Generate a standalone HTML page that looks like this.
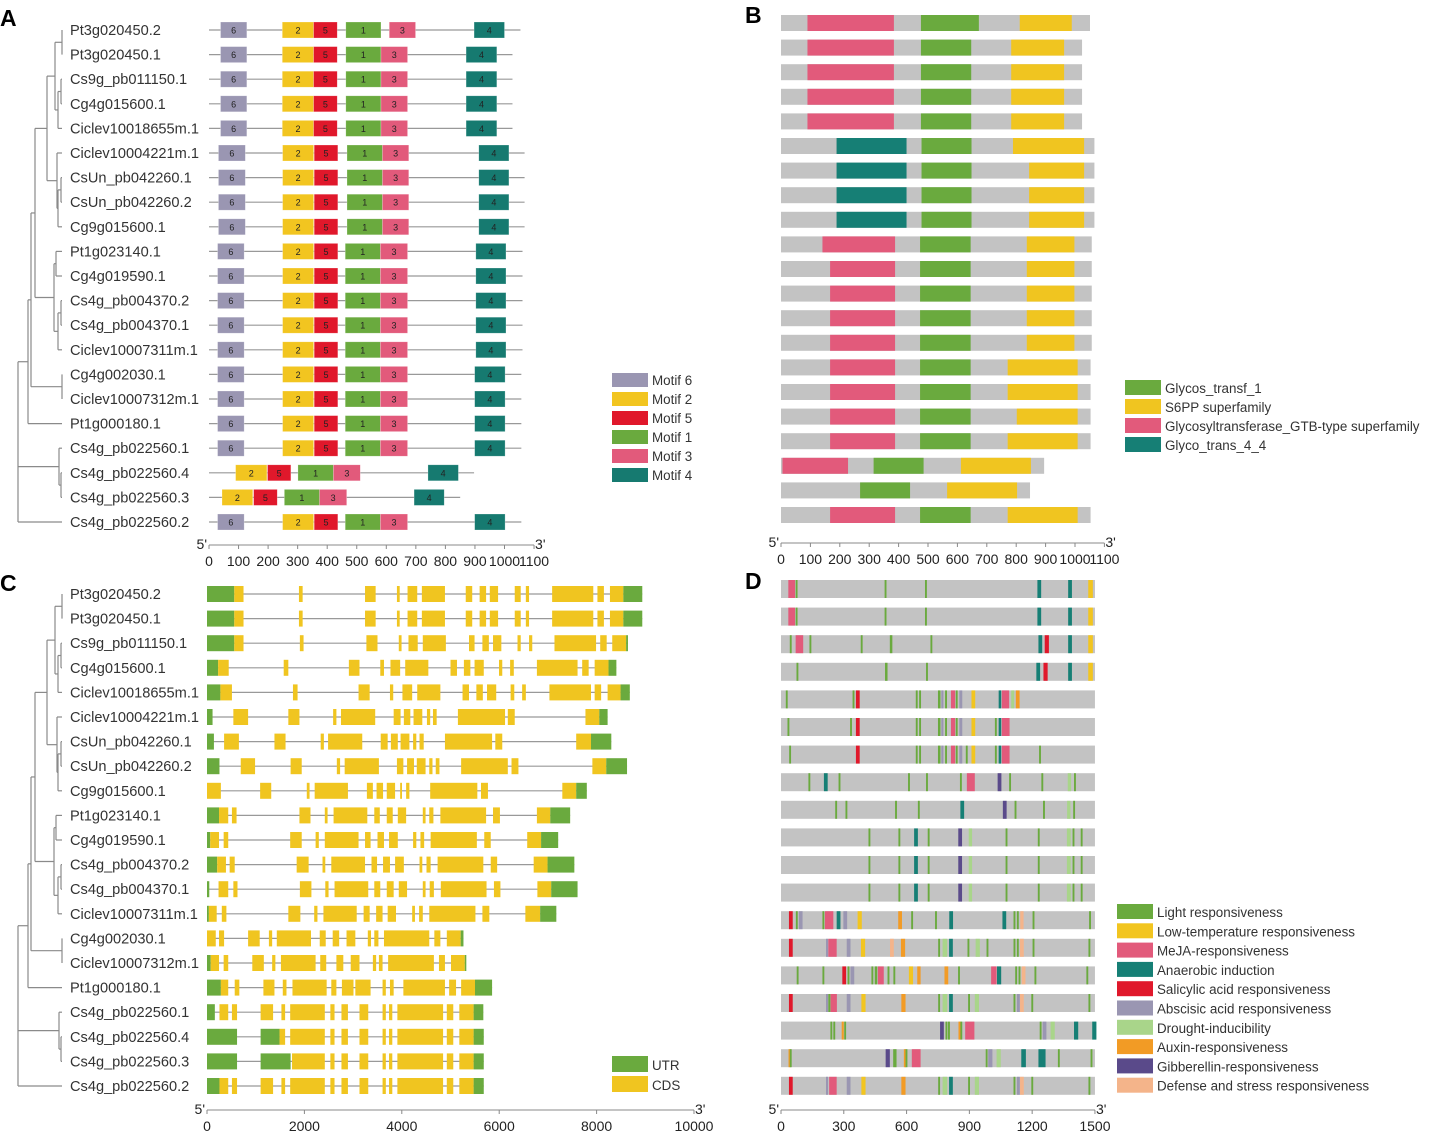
<!DOCTYPE html>
<html><head><meta charset="utf-8">
<style>
html,body{margin:0;padding:0;background:#fff;}
svg{display:block;font-family:"Liberation Sans",Arial,sans-serif;}
</style></head>
<body>
<svg id="fig" width="1430" height="1137" viewBox="0 0 1430 1137" xmlns="http://www.w3.org/2000/svg">
<text x="0" y="26" font-size="23" font-weight="bold">A</text>
<text x="745" y="23" font-size="23" font-weight="bold">B</text>
<text x="0" y="591" font-size="23" font-weight="bold">C</text>
<text x="745" y="589" font-size="23" font-weight="bold">D</text>
</svg>
<script>
const genes=["Pt3g020450.2","Pt3g020450.1","Cs9g_pb011150.1","Cg4g015600.1","Ciclev10018655m.1","Ciclev10004221m.1","CsUn_pb042260.1","CsUn_pb042260.2","Cg9g015600.1","Pt1g023140.1","Cg4g019590.1","Cs4g_pb004370.2","Cs4g_pb004370.1","Ciclev10007311m.1","Cg4g002030.1","Ciclev10007312m.1","Pt1g000180.1","Cs4g_pb022560.1","Cs4g_pb022560.4","Cs4g_pb022560.3","Cs4g_pb022560.2"];
// Panel A: protein lengths and motif spans
const motifLen=[1054,1027,1027,1027,1027,1068,1068,1068,1068,1061,1061,1061,1061,1061,1057,1057,1057,1057,897,850,1057];
const motifRows=[
[[6,39,128],[2,248,354],[5,354,434],[1,463,582],[3,610,699],[4,897,1000]],
[[6,39,128],[2,248,354],[5,354,434],[1,463,582],[3,582,672],[4,870,974]],
[[6,39,128],[2,248,354],[5,354,434],[1,463,582],[3,582,672],[4,870,974]],
[[6,39,128],[2,248,354],[5,354,434],[1,463,582],[3,582,672],[4,870,974]],
[[6,39,128],[2,248,354],[5,354,434],[1,463,582],[3,582,672],[4,870,974]],
[[6,32,123],[2,249,354],[5,356,436],[1,467,587],[3,587,676],[4,913,1015]],
[[6,32,123],[2,249,354],[5,356,436],[1,467,587],[3,587,676],[4,913,1015]],
[[6,32,123],[2,249,354],[5,356,436],[1,467,587],[3,587,676],[4,913,1015]],
[[6,32,123],[2,249,354],[5,356,436],[1,467,587],[3,587,676],[4,913,1015]],
[[6,29,119],[2,249,354],[5,356,436],[1,461,580],[3,580,672],[4,903,1005]],
[[6,29,119],[2,249,354],[5,356,436],[1,461,580],[3,580,672],[4,903,1005]],
[[6,29,119],[2,249,354],[5,356,436],[1,461,580],[3,580,672],[4,903,1005]],
[[6,29,119],[2,249,354],[5,356,436],[1,461,580],[3,580,672],[4,903,1005]],
[[6,29,119],[2,249,354],[5,356,436],[1,461,580],[3,580,672],[4,903,1005]],
[[6,29,119],[2,249,354],[5,356,436],[1,461,580],[3,580,672],[4,899,1002]],
[[6,29,119],[2,249,354],[5,356,436],[1,461,580],[3,580,672],[4,899,1002]],
[[6,29,119],[2,249,354],[5,356,436],[1,461,580],[3,580,672],[4,899,1002]],
[[6,29,119],[2,249,354],[5,356,436],[1,461,580],[3,580,672],[4,899,1002]],
[[2,90,196],[5,198,277],[1,301,421],[3,421,512],[4,741,844]],
[[2,44,148],[5,151,231],[1,255,374],[3,374,466],[4,694,796]],
[[6,29,119],[2,249,354],[5,356,436],[1,461,580],[3,580,672],[4,899,1002]]];
const motifLegend=[6,2,5,1,3,4];
const aTicks=[0,100,200,300,400,500,600,700,800,900,1000,1100];
// Panel B: domains
const domLen=[1051,1024,1024,1024,1024,1066,1066,1066,1066,1057,1057,1057,1057,1057,1053,1053,1053,1053,895,847,1053];
const domRows=[
[['P',90,384],['G',476,673],['S',812,989]],
[['P',90,384],['G',476,647],['S',783,963]],
[['P',90,384],['G',476,647],['S',783,963]],
[['P',90,384],['G',476,647],['S',783,963]],
[['P',90,384],['G',476,647],['S',783,963]],
[['T',189,427],['G',478,648],['S',789,1031]],
[['T',189,427],['G',478,648],['S',844,1031]],
[['T',189,427],['G',478,648],['S',844,1031]],
[['T',189,427],['G',478,648],['S',844,1031]],
[['P',141,388],['G',473,645],['S',836,998]],
[['P',167,388],['G',473,645],['S',836,998]],
[['P',167,388],['G',473,645],['S',836,998]],
[['P',167,388],['G',473,645],['S',836,998]],
[['P',167,388],['G',473,645],['S',836,998]],
[['P',167,388],['G',473,645],['S',771,1009]],
[['P',167,388],['G',473,645],['S',771,1009]],
[['P',167,388],['G',473,645],['S',802,1009]],
[['P',167,388],['G',473,645],['S',771,1009]],
[['P',5,228],['G',315,485],['S',612,850]],
[['G',269,439],['S',565,803]],
[['P',167,388],['G',473,645],['S',771,1009]]];
const domLegend=[['G','Glycos_transf_1'],['S','S6PP superfamily'],['P','Glycosyltransferase_GTB-type superfamily'],['T','Glyco_trans_4_4']];
// Panel C: gene structures
const geneRows=[
[[0,560,'U'],[560,750,'C'],[1888,1964,'C'],[3245,3463,'C'],[3900,3957,'C'],[4118,4317,'C'],[4412,4886,'C'],[5313,5446,'C'],[5598,5731,'C'],[5807,5977,'C'],[6319,6442,'C'],[6547,6613,'C'],[7087,7932,'C'],[8017,8150,'C'],[8274,8549,'C'],[8549,8938,'U']],
[[0,560,'U'],[560,750,'C'],[1888,1964,'C'],[3245,3463,'C'],[3900,3957,'C'],[4118,4317,'C'],[4412,4886,'C'],[5313,5446,'C'],[5598,5731,'C'],[5807,5977,'C'],[6319,6442,'C'],[6547,6613,'C'],[7087,7932,'C'],[8017,8150,'C'],[8274,8549,'C'],[8549,8938,'U']],
[[0,560,'U'],[560,750,'C'],[1907,1983,'C'],[3273,3501,'C'],[3938,3995,'C'],[4137,4327,'C'],[4431,4905,'C'],[5380,5494,'C'],[5655,5788,'C'],[5873,6044,'C'],[6376,6442,'C'],[6613,6679,'C'],[7135,7989,'C'],[8074,8207,'C'],[8321,8606,'C'],[8606,8644,'U']],
[[0,228,'U'],[228,446,'C'],[1575,1670,'C'],[2913,3131,'C'],[3558,3634,'C'],[3767,3966,'C'],[4070,4545,'C'],[5000,5133,'C'],[5275,5408,'C'],[5494,5683,'C'],[5996,6063,'C'],[6224,6300,'C'],[6774,7609,'C'],[7704,7837,'C'],[7960,8245,'C'],[8245,8406,'U']],
[[0,275,'U'],[275,512,'C'],[1765,1860,'C'],[3112,3340,'C'],[3757,3824,'C'],[4013,4213,'C'],[4317,4792,'C'],[5247,5380,'C'],[5531,5664,'C'],[5750,5939,'C'],[6234,6310,'C'],[6471,6547,'C'],[7031,7885,'C'],[7960,8093,'C'],[8226,8492,'C'],[8492,8682,'U']],
[[0,114,'U'],[541,844,'C'],[1670,1898,'C'],[2590,2657,'C'],[2751,3454,'C'],[3833,3975,'C'],[4042,4175,'C'],[4241,4421,'C'],[4516,4583,'C'],[4640,4716,'C'],[5152,6120,'C'],[6177,6319,'C'],[7771,8055,'C'],[8055,8226,'U']],
[[0,142,'U'],[351,655,'C'],[1385,1613,'C'],[2334,2400,'C'],[2486,3188,'C'],[3567,3710,'C'],[3776,3918,'C'],[3975,4156,'C'],[4232,4298,'C'],[4364,4450,'C'],[4886,5854,'C'],[5920,6063,'C'],[7581,7885,'C'],[7885,8302,'U']],
[[0,256,'U'],[693,987,'C'],[1717,1945,'C'],[2666,2733,'C'],[2827,3530,'C'],[3900,4032,'C'],[4108,4250,'C'],[4308,4488,'C'],[4564,4630,'C'],[4697,4773,'C'],[5218,6177,'C'],[6253,6395,'C'],[7913,8198,'C'],[8198,8625,'U']],
[[0,285,'C'],[1091,1319,'C'],[2049,2106,'C'],[2211,2894,'C'],[3283,3406,'C'],[3482,3615,'C'],[3691,3862,'C'],[3966,4004,'C'],[4089,4156,'C'],[4583,5551,'C'],[5626,5769,'C'],[7296,7581,'C'],[7581,7799,'U']],
[[0,247,'U'],[247,436,'C'],[512,607,'C'],[1898,2125,'C'],[2419,2476,'C'],[2599,3292,'C'],[3435,3548,'C'],[3691,3814,'C'],[3918,4089,'C'],[4431,4488,'C'],[4564,4649,'C'],[4792,5731,'C'],[5873,6015,'C'],[6774,7049,'C'],[7049,7457,'U']],
[[0,66,'U'],[66,247,'C'],[342,436,'C'],[1708,1945,'C'],[2230,2296,'C'],[2419,3112,'C'],[3245,3359,'C'],[3501,3634,'C'],[3738,3918,'C'],[4232,4298,'C'],[4383,4459,'C'],[4592,5541,'C'],[5693,5826,'C'],[6575,6860,'C'],[6860,7211,'U']],
[[0,209,'U'],[209,389,'C'],[465,569,'C'],[1841,2087,'C'],[2372,2429,'C'],[2552,3245,'C'],[3378,3492,'C'],[3615,3757,'C'],[3862,4042,'C'],[4364,4421,'C'],[4507,4592,'C'],[4735,5674,'C'],[5826,5958,'C'],[6708,6993,'C'],[6993,7543,'U']],
[[0,47,'U'],[237,436,'C'],[541,626,'C'],[1907,2144,'C'],[2429,2496,'C'],[2619,3311,'C'],[3435,3558,'C'],[3691,3833,'C'],[3938,4108,'C'],[4431,4488,'C'],[4573,4659,'C'],[4801,5740,'C'],[5892,6025,'C'],[6784,7068,'C'],[7068,7609,'U']],
[[0,38,'U'],[38,199,'C'],[304,398,'C'],[1670,1917,'C'],[2201,2268,'C'],[2391,3074,'C'],[3216,3340,'C'],[3473,3605,'C'],[3710,3881,'C'],[4213,4270,'C'],[4355,4431,'C'],[4564,5512,'C'],[5655,5797,'C'],[6537,6841,'C'],[6841,7173,'U']],
[[0,180,'C'],[247,351,'C'],[844,1082,'C'],[1271,1338,'C'],[1433,2135,'C'],[2315,2438,'C'],[2581,2714,'C'],[2865,3046,'C'],[3302,3368,'C'],[3435,3520,'C'],[3634,4564,'C'],[4668,4792,'C'],[4924,5209,'C'],[5209,5266,'U']],
[[0,76,'U'],[76,247,'C'],[342,436,'C'],[930,1167,'C'],[1338,1404,'C'],[1518,2230,'C'],[2325,2448,'C'],[2657,2799,'C'],[2951,3131,'C'],[3406,3473,'C'],[3530,3605,'C'],[3719,4659,'C'],[4763,4886,'C'],[5010,5294,'C'],[5294,5313,'U']],
[[0,285,'U'],[285,436,'C'],[569,664,'C'],[1158,1385,'C'],[1556,1632,'C'],[1755,2457,'C'],[2552,2657,'C'],[2770,3008,'C'],[3046,3359,'C'],[3605,3672,'C'],[3757,3833,'C'],[4032,4886,'C'],[4972,5114,'C'],[5218,5503,'C'],[5503,5854,'U']],
[[0,161,'U'],[256,436,'C'],[512,617,'C'],[1101,1357,'C'],[1528,1604,'C'],[1708,2419,'C'],[2533,2619,'C'],[2761,2894,'C'],[3131,3311,'C'],[3605,3672,'C'],[3738,3805,'C'],[3909,4848,'C'],[4924,5057,'C'],[5181,5475,'C'],[5475,5674,'U']],
[[0,617,'U'],[1101,1490,'U'],[1490,1604,'C'],[1708,2419,'C'],[2533,2619,'C'],[2761,2894,'C'],[3131,3311,'C'],[3605,3672,'C'],[3738,3805,'C'],[3909,4848,'C'],[4924,5057,'C'],[5181,5475,'C'],[5475,5683,'U']],
[[0,617,'U'],[1101,1717,'U'],[1746,2419,'C'],[2533,2619,'C'],[2761,2894,'C'],[3131,3311,'C'],[3605,3672,'C'],[3738,3805,'C'],[3909,4848,'C'],[4924,5057,'C'],[5181,5475,'C'],[5475,5683,'U']],
[[0,256,'U'],[256,436,'C'],[512,617,'C'],[1101,1357,'C'],[1528,1604,'C'],[1708,2419,'C'],[2533,2619,'C'],[2761,2894,'C'],[3131,3311,'C'],[3605,3672,'C'],[3738,3805,'C'],[3909,4848,'C'],[4924,5057,'C'],[5181,5475,'C'],[5475,5683,'U']]];
const cTicks=[0,2000,4000,6000,8000,10000];
// Panel D: promoter cis-elements [start,length,type]
const promLen=[1500,1500,1500,1500,1500,1500,1500,1500,1500,1500,1500,1500,1500,1500,1500,1500,1505,1500,1500];
const promRows=[
[[35,32,'M'],[70,9,'L'],[495,9,'L'],[688,9,'L'],[1225,18,'A'],[1372,18,'A'],[1468,22,'T']],
[[35,32,'M'],[70,9,'L'],[495,9,'L'],[688,9,'L'],[1225,18,'A'],[1372,18,'A'],[1468,22,'T']],
[[42,9,'L'],[70,36,'M'],[136,9,'L'],[381,9,'L'],[520,12,'L'],[714,9,'L'],[1230,18,'A'],[1260,20,'S'],[1372,18,'A'],[1468,22,'T']],
[[74,9,'L'],[497,12,'L'],[693,9,'L'],[1220,18,'A'],[1254,20,'S'],[1372,18,'A'],[1468,22,'T']],
[[23,9,'L'],[342,9,'L'],[358,18,'S'],[644,9,'L'],[660,9,'L'],[750,12,'L'],[766,10,'B'],[784,9,'L'],[812,20,'M'],[835,9,'L'],[852,14,'B'],[910,18,'T'],[1040,12,'A'],[1055,35,'M'],[1100,14,'D'],[1122,18,'X']],
[[31,9,'L'],[330,9,'L'],[358,18,'S'],[644,9,'L'],[660,9,'L'],[750,12,'L'],[766,10,'B'],[784,9,'L'],[812,20,'M'],[835,9,'L'],[852,14,'B'],[910,18,'T'],[1022,9,'L'],[1040,12,'A'],[1055,37,'M']],
[[39,9,'L'],[358,18,'S'],[644,9,'L'],[660,9,'L'],[750,12,'L'],[766,10,'B'],[784,9,'L'],[812,20,'M'],[835,9,'L'],[852,14,'B'],[883,9,'L'],[910,18,'T'],[1022,9,'L'],[1040,12,'A'],[1055,37,'M'],[1233,9,'L']],
[[131,9,'L'],[205,18,'A'],[275,9,'L'],[607,9,'L'],[693,9,'L'],[855,9,'L'],[888,38,'M'],[1035,18,'G'],[1090,9,'L'],[1244,9,'L'],[1370,16,'D'],[1400,9,'L']],
[[259,9,'L'],[308,9,'L'],[545,9,'L'],[654,9,'L'],[857,18,'A'],[1060,18,'G'],[1116,9,'L'],[1252,9,'L'],[1367,16,'D'],[1396,9,'L']],
[[418,9,'L'],[561,9,'L'],[636,18,'A'],[701,9,'L'],[847,18,'G'],[897,16,'D'],[1073,9,'L'],[1227,9,'L'],[1366,18,'D'],[1393,9,'L'],[1432,9,'L']],
[[418,9,'L'],[561,9,'L'],[636,18,'A'],[701,9,'L'],[847,18,'G'],[897,16,'D'],[1073,9,'L'],[1227,9,'L'],[1366,18,'D'],[1393,9,'L'],[1432,9,'L']],
[[418,9,'L'],[561,9,'L'],[636,18,'A'],[701,9,'L'],[847,18,'G'],[897,16,'D'],[1073,9,'L'],[1227,9,'L'],[1366,18,'D'],[1393,9,'L'],[1432,9,'L']],
[[38,18,'S'],[71,9,'L'],[85,18,'B'],[198,9,'L'],[210,40,'M'],[266,18,'A'],[298,18,'B'],[366,20,'T'],[560,18,'X'],[622,9,'L'],[736,9,'L'],[804,18,'A'],[1058,18,'A'],[1111,9,'L'],[1127,9,'L'],[1143,16,'F'],[1202,9,'L'],[1472,9,'L']],
[[38,18,'S'],[215,10,'B'],[226,40,'M'],[314,18,'B'],[382,20,'T'],[521,18,'F'],[573,20,'X'],[751,9,'L'],[772,22,'D'],[803,18,'A'],[891,9,'L'],[930,20,'D'],[982,9,'L'],[1111,9,'L'],[1127,9,'L'],[1142,18,'F'],[1202,9,'L'],[1469,9,'L']],
[[75,9,'L'],[198,9,'L'],[293,18,'S'],[318,9,'L'],[332,18,'B'],[432,9,'L'],[448,12,'L'],[463,28,'M'],[509,9,'L'],[537,9,'L'],[611,20,'T'],[651,16,'X'],[781,18,'X'],[846,9,'L'],[1004,26,'M'],[1032,20,'A'],[1119,9,'L'],[1135,9,'L'],[1150,18,'F'],[1211,9,'L'],[1459,9,'L']],
[[38,18,'S'],[215,10,'B'],[226,10,'L'],[237,30,'M'],[314,18,'B'],[384,20,'T'],[575,20,'X'],[751,9,'L'],[772,22,'D'],[803,18,'A'],[894,9,'L'],[926,20,'D'],[1111,9,'L'],[1127,14,'B'],[1142,18,'F'],[1196,9,'L'],[1469,9,'L']],
[[236,9,'L'],[250,9,'L'],[290,10,'X'],[302,9,'L'],[760,18,'G'],[786,9,'L'],[798,9,'L'],[848,10,'X'],[857,9,'L'],[880,44,'M'],[1236,9,'L'],[1250,18,'B'],[1288,20,'D'],[1400,20,'A'],[1487,20,'A']],
[[36,10,'X'],[42,9,'L'],[500,20,'G'],[536,16,'L'],[587,10,'X'],[595,9,'L'],[625,42,'M'],[978,9,'L'],[990,20,'B'],[1030,20,'D'],[1148,22,'A'],[1230,34,'A'],[1323,9,'L'],[1479,9,'L']],
[[38,18,'S'],[215,10,'B'],[230,36,'M'],[314,18,'B'],[384,20,'T'],[575,20,'X'],[751,9,'L'],[772,22,'D'],[803,18,'A'],[894,9,'L'],[926,20,'D'],[1111,9,'L'],[1127,14,'B'],[1142,18,'F'],[1196,9,'L'],[1469,9,'L']]];
const promLegend=[['L','Light responsiveness'],['T','Low-temperature responsiveness'],['M','MeJA-responsiveness'],['A','Anaerobic induction'],['S','Salicylic acid responsiveness'],['B','Abscisic acid responsiveness'],['D','Drought-inducibility'],['X','Auxin-responsiveness'],['G','Gibberellin-responsiveness'],['F','Defense and stress responsiveness']];
const dTicks=[0,300,600,900,1200,1500];
// tree topology (leaf indices)
const tree={x:18,c:[{x:28,c:[{x:31,c:[{x:35,c:[{x:47,c:[{x:55,c:[{x:62,c:[0,1]},{x:58,c:[{x:61,c:[2,3]},4]}]},{x:57,c:[5,{x:58,c:[{x:61,c:[6,7]},8]}]}]},{x:54,c:[{x:56,c:[9,10]},{x:58,c:[{x:61,c:[11,12]},13]}]}]},{x:62,c:[14,15]}]},16]},{x:59,c:[17,{x:61,c:[18,19]}]},20]};

const NS='http://www.w3.org/2000/svg';
const svg=document.getElementById('fig');
function mk(tag,attrs,parent){const e=document.createElementNS(NS,tag);for(const k in attrs)e.setAttribute(k,attrs[k]);(parent||svg).appendChild(e);return e;}
function grp(name){const g=mk('g',{});


return g;}
const motifColor={6:'#9a96b2',2:'#f2c520',5:'#e0182b',1:'#6aaa3e',3:'#e25a7b',4:'#167a70'};
const domColor={G:'#6aaa3e',S:'#f0c520',P:'#e25a7b',T:'#167f75'};
const promColor={L:'#6aaa3e',T:'#f2c520',M:'#e25a7b',A:'#167f75',S:'#e0182b',B:'#9a96b2',D:'#a9d58a',X:'#f29b25',G:'#5a4a8a',F:'#f4b48a'};

function drawTree(g,rowY,xShift){
  function rec(n){
    if(typeof n==='number'){return rowY(n);}
    const ys=n.c.map(rec);
    const y0=Math.min(...ys),y1=Math.max(...ys);
    const l=mk('line',{x1:n.x+xShift,x2:n.x+xShift,y1:y0,y2:y1,stroke:'#8a8a8a','stroke-width':1.2},g);
    
    
    n.c.forEach((ch,i)=>{const cx=(typeof ch==='number')?62+xShift:ch.x+xShift;
      const h=mk('line',{x1:n.x+xShift,x2:cx,y1:ys[i],y2:ys[i],stroke:'#8a8a8a','stroke-width':1.2},g);
      
      });
    return (y0+y1)/2;
  }
  rec(tree);
}
function drawLabels(g,rowY){
  genes.forEach((n,i)=>{const t=mk('text',{x:70,y:rowY(i)+5,'font-size':14.6,fill:'#333'},g);t.textContent=n;
    
    });
}
function drawAxis(g,x0,k,y,ticks,maxV){
  const xe=x0+maxV*k;
  mk('line',{x1:x0,x2:xe,y1:y,y2:y,stroke:'#888','stroke-width':1},g);
  ticks.forEach(v=>{const x=x0+v*k;mk('line',{x1:x,x2:x,y1:y,y2:y+4,stroke:'#888'},g);
    const t=mk('text',{x:x,y:y+21,'font-size':14,'text-anchor':'middle',fill:'#222'},g);t.textContent=v;
    
    });
  const a=mk('text',{x:x0-2,y:y+4,'font-size':14,'text-anchor':'end',fill:'#222'},g);a.textContent="5'";
  
  
  const b=mk('text',{x:xe+1,y:y+4,'font-size':14,fill:'#222'},g);b.textContent="3'";
  
  
}
function legend(g,items,x,y0,dy,colorOf,labelOf,w,h){
  items.forEach((it,i)=>{const y=y0+i*dy;
    const r=mk('rect',{x:x,y:y,width:w,height:h,fill:colorOf(it)},g);
    
    
    const t=mk('text',{x:x+w+4,y:y+h-2,'font-size':13.4,fill:'#333'},g);t.textContent=labelOf(it);
    
    });
}

// ---- Panel A
(function(){
  const g=grp('panel-a-motifs');
  const rowY=i=>30+i*24.6;const x0=209,k=0.2955;
  drawTree(g,rowY,0);drawLabels(g,rowY);
  motifLen.forEach((L,i)=>{const y=rowY(i);
    mk('line',{x1:x0,x2:x0+L*k,y1:y,y2:y,stroke:'#999','stroke-width':1.2},g);
    motifRows[i].forEach(m=>{const r=mk('rect',{x:x0+m[1]*k,y:y-8,width:(m[2]-m[1])*k,height:16,fill:motifColor[m[0]],stroke:'#fff','stroke-opacity':0.4,'stroke-width':0.6},g);
      
      
      const t=mk('text',{x:x0+(m[1]+m[2])/2*k,y:y+3.5,'font-size':9,'text-anchor':'middle',fill:'#222'},g);t.textContent=m[0];
      
      });
  });
  drawAxis(g,x0,k,545,aTicks,1100);
  legend(g,motifLegend,612,373,19,m=>motifColor[m],m=>'Motif '+m,36,14);
})();
// ---- Panel B
(function(){
  const g=grp('panel-b-domains');
  const rowY=i=>23+i*24.6;const x0=781,k=0.294;
  domLen.forEach((L,i)=>{const y=rowY(i);
    const bg=mk('rect',{x:x0,y:y-8,width:L*k,height:16,fill:'#c3c3c3'},g);
    
    
    domRows[i].forEach(d=>{const r=mk('rect',{x:x0+d[1]*k,y:y-8,width:(d[2]-d[1])*k,height:16,fill:domColor[d[0]]},g);
      
      });
  });
  drawAxis(g,x0,k,543,aTicks,1100);
  legend(g,domLegend,1125,380,19,d=>domColor[d[0]],d=>d[1],36,15);
})();
// ---- Panel C
(function(){
  const g=grp('panel-c-gene-structure');
  const rowY=i=>594+i*24.6;const x0=207,k=0.0487;
  drawTree(g,rowY,0);drawLabels(g,rowY);
  geneRows.forEach((segs,i)=>{const y=rowY(i);const end=segs[segs.length-1][1];
    mk('line',{x1:x0,x2:x0+end*k,y1:y,y2:y,stroke:'#999','stroke-width':1.2},g);
    segs.forEach(s=>{const r=mk('rect',{x:x0+s[0]*k,y:y-8,width:Math.max(1.5,(s[1]-s[0])*k),height:16,fill:s[2]==='U'?'#6aaa3e':'#f0c520'},g);
      
      });
  });
  drawAxis(g,x0,k,1110,cTicks,10000);
  legend(g,[['U','UTR'],['C','CDS']],612,1056,20,d=>d[0]==='U'?'#6aaa3e':'#f0c520',d=>d[1],36,16);
})();
// ---- Panel D
(function(){
  const g=grp('panel-d-promoter');
  const rowY=i=>589+i*27.6;const x0=781,k=0.2093;
  promLen.forEach((L,i)=>{const y=rowY(i);
    const bg=mk('rect',{x:x0,y:y-9,width:L*k,height:18,fill:'#c3c3c3'},g);
    
    
    promRows[i].forEach(p=>{const r=mk('rect',{x:x0+p[0]*k,y:y-9,width:p[1]*k,height:18,fill:promColor[p[2]]},g);
      
      });
  });
  drawAxis(g,x0,k,1110,dTicks,1500);
  legend(g,promLegend,1117,904,19.3,d=>promColor[d[0]],d=>d[1],36,15);
})();
</script>
</body></html>
